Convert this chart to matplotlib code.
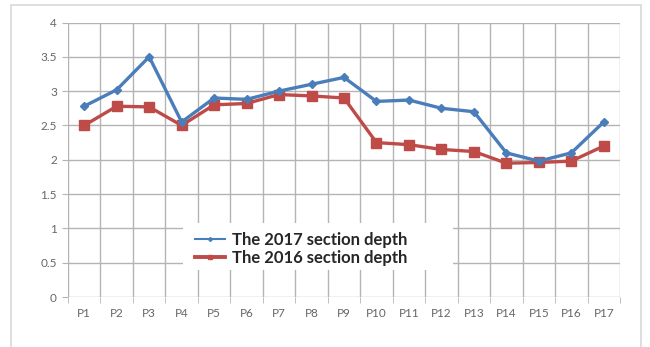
import matplotlib.pyplot as plt
from matplotlib.patches import Rectangle

points = ["P1", "P2", "P3", "P4", "P5", "P6", "P7", "P8", "P9",
          "P10", "P11", "P12", "P13", "P14", "P15", "P16", "P17"]
depth_2017 = [2.78, 3.02, 3.50, 2.55, 2.90, 2.88, 3.00, 3.10, 3.20,
              2.85, 2.87, 2.75, 2.70, 2.10, 1.98, 2.10, 2.55]
depth_2016 = [2.50, 2.78, 2.77, 2.50, 2.80, 2.82, 2.95, 2.93, 2.90,
              2.25, 2.22, 2.15, 2.12, 1.95, 1.96, 1.98, 2.20]
y_ticks = [0, 0.5, 1, 1.5, 2, 2.5, 3, 3.5, 4]
y_tick_labels = ["0", "0.5", "1", "1.5", "2", "2.5", "3", "3.5", "4"]

plt.rcParams["font.family"] = ["Lato", "DejaVu Sans"]

W, H = 650, 347
fig = plt.figure(figsize=(W / 100, H / 100), dpi=100)
fig.patch.set_facecolor("white")

# light frame around the chart area
fig.add_artist(Rectangle((11 / W, -0.05), 630 / W, 1.05 - 5 / H,
                         transform=fig.transFigure, fill=False,
                         edgecolor="#d9d9d9", linewidth=1.2))

ax_h = 297 - 22.5
ax = fig.add_axes([68 / W, 1 - 297 / H, 552 / W, ax_h / H])
x = list(range(len(points)))
grid_col = "#b4b4b4"

# vertical grid between categories, horizontal at each tick
for b in range(len(points) + 1):
    ax.axvline(b - 0.5, color=grid_col, linewidth=1.0, zorder=1)
for yv in y_ticks:
    ax.axhline(yv, color=grid_col, linewidth=1.0, zorder=1)

ax.plot(x, depth_2017, color="#4a7ebb", linewidth=2.4, marker="D",
        markersize=4, label="The 2017 section depth", zorder=4)
ax.plot(x, depth_2016, color="#be4b48", linewidth=2.4, marker="s",
        markersize=6.5, label="The 2016 section depth", zorder=3)

ax.set_xlim(-0.5, len(points) - 0.5)
ax.set_ylim(0, 4)
ax.set_yticks(y_ticks)
ax.set_yticklabels(y_tick_labels)
ax.set_xticks(x)
ax.set_xticklabels(points)
ax.set_xticks([b - 0.5 for b in range(len(points) + 1)], minor=True)
ax.tick_params(axis="x", which="major", length=0, pad=8,
               labelsize=8.5, labelcolor="#666666")
ax.tick_params(axis="x", which="minor", length=4, color=grid_col)
ax.tick_params(axis="y", length=4, color=grid_col, pad=4,
               labelsize=8.5, labelcolor="#666666")
for s in ax.spines.values():
    s.set_visible(False)

# white plate behind the legend, blanking the grid
ax.add_patch(Rectangle((115 / 552, (297 - 270) / ax_h), 270 / 552, 47 / ax_h,
                       transform=ax.transAxes, facecolor="white",
                       edgecolor="none", zorder=2))

leg = ax.legend(loc="upper left",
                bbox_to_anchor=(115 / 552, (297 - 220) / ax_h),
                frameon=False, handlelength=1.8, handletextpad=0.45,
                borderpad=0.2, labelspacing=0.15, markerscale=0.5,
                prop={"weight": "bold", "size": 12})
leg.get_lines()[0].set_linewidth(1.5)
leg.get_lines()[1].set_linewidth(2.8)
for t in leg.get_texts():
    t.set_color("#262626")

fig.savefig("out.png", dpi=100)
